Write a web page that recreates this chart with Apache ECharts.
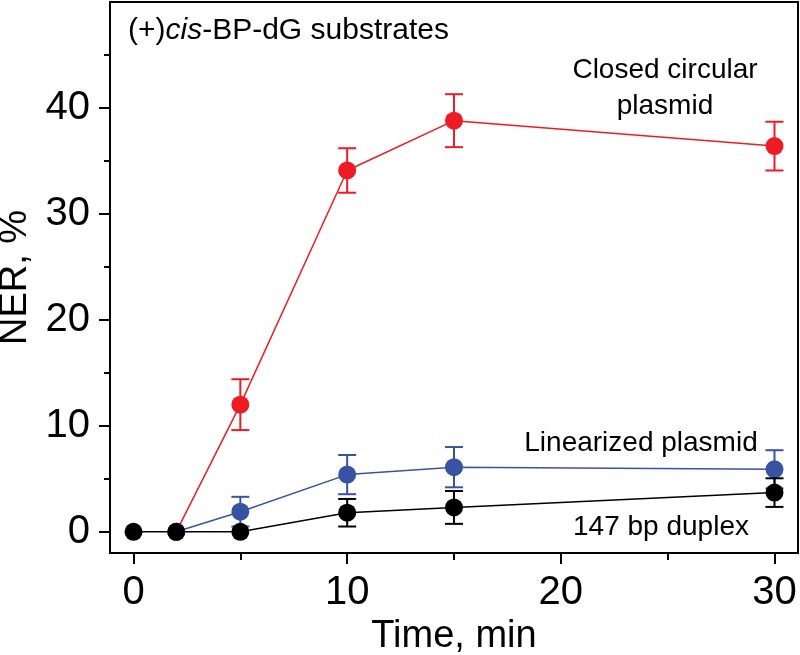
<!DOCTYPE html>
<html>
<head>
<meta charset="utf-8">
<script src="https://cdn.jsdelivr.net/npm/echarts@6/dist/echarts.min.js"></script>
<style>html,body{margin:0;padding:0;background:#fff}#c{width:800px;height:655px}</style>
</head>
<body>
<div id="c"></div>
<script>
// Data
var times = [0, 2, 5, 10, 15, 30];
var closedVals = [0, 0, 12.0, 34.1, 38.8, 36.4];
var closedErr  = [0, 0, 2.4, 2.1, 2.5, 2.3];
var linearVals = [0, 0, 1.9, 5.4, 6.1, 5.9];
var linearErr  = [0, 0, 1.4, 1.85, 1.9, 1.8];
var duplexVals = [0, 0, 0, 1.8, 2.3, 3.7];
var duplexErr  = [0, 0, 0, 1.3, 1.55, 1.35];
var xMajorTicks = [0, 10, 20, 30];
var xMinorTicks = [5, 15, 25];
var yMajorTicks = [0, 10, 20, 30, 40];
var yMinorTicks = [5, 15, 25, 35, 45];

var FONT = "'Liberation Sans', Arial, Helvetica, sans-serif";
var RED = '#ED1C24', BLUE = '#3953A4', BLACK = '#000000';

function pts(vals) { return times.map(function (t, i) { return [t, vals[i]]; }); }
function errs(vals, e) {
  var out = [];
  times.forEach(function (t, i) { if (e[i] > 0) out.push([t, vals[i] - e[i], vals[i] + e[i]]); });
  return out;
}
function errSeries(vals, e, color, z) {
  return {
    type: 'custom', z: z, xAxisIndex: 0, yAxisIndex: 0,
    data: errs(vals, e), silent: true,
    renderItem: function (params, api) {
      var x = api.value(0);
      var lo = api.coord([x, api.value(1)]);
      var hi = api.coord([x, api.value(2)]);
      var w = 9;
      var st = { stroke: color, lineWidth: 2, fill: null };
      return { type: 'group', children: [
        { type: 'line', shape: { x1: lo[0], y1: lo[1], x2: hi[0], y2: hi[1] }, style: st },
        { type: 'line', shape: { x1: lo[0] - w, y1: lo[1], x2: lo[0] + w, y2: lo[1] }, style: st },
        { type: 'line', shape: { x1: hi[0] - w, y1: hi[1], x2: hi[0] + w, y2: hi[1] }, style: st }
      ]};
    }
  };
}
function lineSeries(vals, color, z, startIdx) {
  var d = pts(vals).slice(startIdx || 0);
  return {
    type: 'line', z: z, data: d, xAxisIndex: 0, yAxisIndex: 0,
    symbol: 'circle', symbolSize: 18, showSymbol: true,
    lineStyle: { color: color, width: 1.5 },
    itemStyle: { color: color, borderWidth: 0 },
    emphasis: { disabled: true }, animation: false
  };
}

var chart = echarts.init(document.getElementById('c'), null, { renderer: 'canvas' });
var axisCommon = {
  type: 'value', splitLine: { show: false }
};
chart.setOption({
  animation: false,
  grid: { left: 110, right: 2, top: 2, bottom: 102, show: true, borderColor: '#000', borderWidth: 2,
          backgroundColor: 'transparent', containLabel: false, outerBoundsMode: 'none' },
  xAxis: [
    Object.assign({}, axisCommon, {
      min: -1.1, max: 31.1, position: 'bottom',
      axisLine: { show: true, onZero: false, lineStyle: { color: '#000', width: 2 } },
      axisTick: { show: true, inside: false, length: 11, lineStyle: { color: '#000', width: 2 }, customValues: xMajorTicks },
      axisLabel: { show: true, customValues: xMajorTicks, fontSize: 40, color: '#000', fontFamily: FONT, margin: 20 },
      name: 'Time, min', nameLocation: 'middle', nameGap: 60,
      nameTextStyle: { fontSize: 38, color: '#000', fontFamily: FONT }
    }),
    Object.assign({}, axisCommon, {
      min: -1.1, max: 31.1, position: 'bottom',
      axisLine: { show: false, onZero: false },
      axisTick: { show: true, inside: false, length: 7, lineStyle: { color: '#000', width: 2 }, customValues: xMinorTicks },
      axisLabel: { show: false }
    })
  ],
  yAxis: [
    Object.assign({}, axisCommon, {
      min: -2, max: 50, position: 'left',
      axisLine: { show: true, onZero: false, lineStyle: { color: '#000', width: 2 } },
      axisTick: { show: true, inside: false, length: 11, lineStyle: { color: '#000', width: 2 }, customValues: yMajorTicks },
      axisLabel: { show: true, customValues: yMajorTicks, fontSize: 40, color: '#000', fontFamily: FONT, margin: 20 },
      name: 'NER, %', nameLocation: 'middle', nameGap: 70,
      nameTextStyle: { fontSize: 38, color: '#000', fontFamily: FONT }
    }),
    Object.assign({}, axisCommon, {
      min: -2, max: 50, position: 'left',
      axisLine: { show: false, onZero: false },
      axisTick: { show: true, inside: false, length: 6, lineStyle: { color: '#000', width: 2 }, customValues: yMinorTicks },
      axisLabel: { show: false }
    })
  ],
  series: [
    errSeries(closedVals, closedErr, RED, 2),
    lineSeries(closedVals, RED, 3, 1),
    errSeries(linearVals, linearErr, BLUE, 4),
    lineSeries(linearVals, BLUE, 5, 1),
    errSeries(duplexVals, duplexErr, BLACK, 6),
    lineSeries(duplexVals, BLACK, 7, 0)
  ],
  graphic: [
    { type: 'text', left: 128, top: 16, z: 10, style: {
      text: '(+){i|cis}-BP-dG substrates', fontSize: 30, fontFamily: FONT, fill: '#000',
      rich: { i: { fontStyle: 'italic', fontSize: 30, fontFamily: FONT, fill: '#000' } } } },
    { type: 'text', x: 665, y: 88, z: 10, style: {
      text: 'Closed circular\nplasmid', fontSize: 28, lineHeight: 36, fontFamily: FONT, fill: '#000',
      align: 'center', verticalAlign: 'middle' } },
    { type: 'text', x: 641, y: 443, z: 10, style: {
      text: 'Linearized plasmid', fontSize: 28, fontFamily: FONT, fill: '#000',
      align: 'center', verticalAlign: 'middle' } },
    { type: 'text', x: 661, y: 527, z: 10, style: {
      text: '147 bp duplex', fontSize: 28, fontFamily: FONT, fill: '#000',
      align: 'center', verticalAlign: 'middle' } }
  ]
});
</script>
</body>
</html>
